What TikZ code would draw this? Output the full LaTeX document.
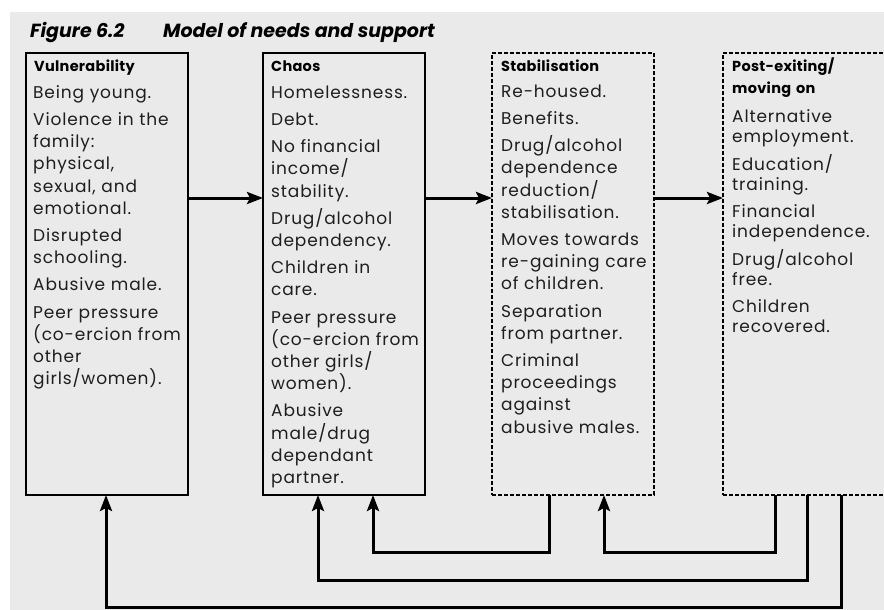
\documentclass[tikz,border=0pt]{standalone}
\usepackage{fontspec}
\setmainfont{Poppins}
\newfontfamily\bodyfont{Poppins}[LetterSpace=5]
\newfontfamily\headfont{Poppins}[LetterSpace=2]
\usetikzlibrary{arrows.meta}
\definecolor{bggrey}{HTML}{EAEAEA}
\definecolor{ink}{HTML}{1E1E1E}
\tikzset{
  box/.style={draw=black, line width=2.4pt, minimum width=162pt, minimum height=442pt,
    anchor=north west, inner sep=0pt, outer sep=0pt},
  dbox/.style={box, line width=2pt, dash pattern=on 4pt off 2pt},
  head/.style={anchor=base west, inner sep=0pt, text width=170pt, align=left, text=black,
    font=\headfont\fontsize{14.5}{21.5}\selectfont\bfseries},
  body/.style={anchor=base west, inner sep=0pt, text width=175pt, align=left, text=ink,
    font=\bodyfont\fontsize{17}{22.2}\selectfont\setlength{\parskip}{5.0pt}\setlength{\parindent}{0pt}},
  bodyb/.style={body,
    font=\bodyfont\fontsize{17}{20.3}\selectfont\setlength{\parskip}{6.2pt}\setlength{\parindent}{0pt}},
  ttl/.style={anchor=base west, inner sep=0pt, text=black, font=\fontsize{19}{23}\selectfont\bfseries\itshape},
  conn/.style={draw=black, line width=3pt, -{Stealth[length=16pt,width=12pt,inset=3pt]}},
}
\begin{document}
\begin{tikzpicture}[x=1pt, y=-1pt]
\useasboundingbox (0,0) rectangle (884,610);
\fill[bggrey] (10,12) rectangle (884,610);

\node[ttl] (fig) at (30,37.3) {Figure 6.2};
\node[ttl] (title) at (163,37.3) {Model of needs and support};

\node[box] (vul) at (26,53) {};
\node[box] (chaos) at (263,53) {};
\node[dbox] (stab) at (492,53) {};
\node[dbox] (post) at (723,53) {};

\node[head] (h1) at (34,71) {Vulnerability};
\node[head] (h2) at (271,71) {Chaos};
\node[head] (h3) at (501,71) {Stabilisation};
\node[head] (h4) at (732,71.7) {Post-exiting/\\moving on};

\node[body] (b1) at (33,98.3) {Being young.\par
Violence in the\\family:\\physical,\\sexual, and\\emotional.\par
Disrupted\\schooling.\par
Abusive male.\par
Peer pressure\\(co-ercion from\\other\\girls/women).};

\node[body] (b2) at (271,98.3) {Homelessness.\par
Debt.\par
No financial\\income/\\stability.\par
Drug/alcohol\\dependency.\par
Children in\\care.\par
Peer pressure\\(co-ercion from\\other girls/\\women).\par
Abusive\\male/drug\\dependant\\partner.};

\node[body] (b3) at (501,97.3) {Re-housed.\par
Benefits.\par
Drug/alcohol\\dependence\\reduction/\\stabilisation.\par
Moves towards\\re-gaining care\\of children.\par
Separation\\from partner.\par
Criminal\\proceedings\\against\\abusive males.};

\node[bodyb] (b4) at (732,122.7) {Alternative\\employment.\par
Education/\\training.\par
Financial\\independence.\par
Drug/alcohol\\free.\par
Children\\recovered.};

\draw[conn] ([yshift=-145pt]vul.north east) -- ([yshift=-145pt]chaos.north west);
\draw[conn] ([yshift=-145pt]chaos.north east) -- ([yshift=-145pt]stab.north west);
\draw[conn] ([yshift=-145pt]stab.north east) -- ([yshift=-145pt]post.north west);

\draw[conn] ([xshift=57pt]stab.south west) -- ++(0,57) -| ([xshift=110pt]chaos.south west);
\draw[conn] ([xshift=52pt]post.south west) -- ++(0,57) -| ([xshift=112pt]stab.south west);
\draw[conn] ([xshift=84pt]post.south west) -- ++(0,85) -| ([xshift=55pt]chaos.south west);
\draw[conn] ([xshift=118pt]post.south west) -- ++(0,112) -| ([xshift=80pt]vul.south west);
\end{tikzpicture}
\end{document}
